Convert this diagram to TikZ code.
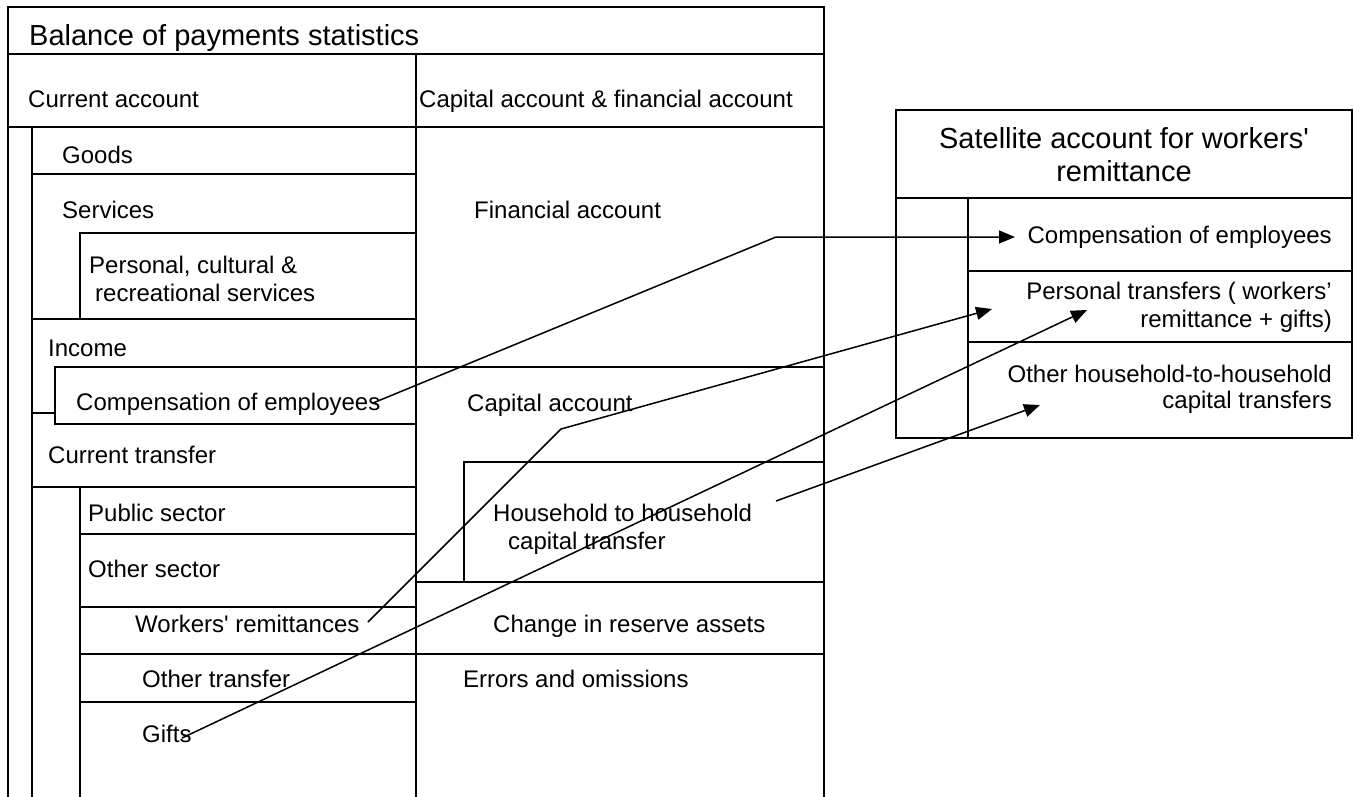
\documentclass[tikz,border=0pt]{standalone}
\usepackage{fontspec}
\setmainfont{Liberation Sans}[Ligatures=TeXOff]
\usetikzlibrary{arrows.meta}
\begin{document}
\begin{tikzpicture}[x=1pt,y=-1pt,
  rule/.style={line width=1.8pt, line cap=rect},
  lbl/.style={anchor=base west, inner sep=0pt, font=\fontsize{24}{28}\selectfont},
  rlbl/.style={anchor=base east, inner sep=0pt, font=\fontsize{24}{28}\selectfont},
  head/.style={inner sep=0pt, font=\fontsize{29}{33}\selectfont},
  link/.style={line width=1.5pt, -{Triangle[length=16pt,width=13pt]}}]
\useasboundingbox (0,0) rectangle (1354,796);

% ---- balance of payments table: frame and columns
\draw[rule] (8,796) -- (8,7) -- (824,7) -- (824,796);
\draw[rule] (8,54) -- (824,54);
\draw[rule] (8,127) -- (824,127);
\draw[rule] (416,54) -- (416,796);
\draw[rule] (32,127) -- (32,796);

% current account rows
\draw[rule] (32,174) -- (416,174);
\draw[rule] (80,319) -- (80,233) -- (416,233);
\draw[rule] (32,319) -- (416,319);
\draw[rule] (32,413) -- (55,413);
\draw[rule] (55,424) -- (55,367) -- (824,367);
\draw[rule] (55,424) -- (416,424);
\draw[rule] (32,487) -- (416,487);
\draw[rule] (80,487) -- (80,796);
\draw[rule] (80,534) -- (416,534);
\draw[rule] (80,607) -- (416,607);
\draw[rule] (80,654) -- (824,654);
\draw[rule] (80,702) -- (416,702);

% capital & financial account rows
\draw[rule] (464,582) -- (464,462) -- (824,462);
\draw[rule] (416,582) -- (824,582);

% ---- satellite account table
\draw[rule] (896,110) rectangle (1352,438);
\draw[rule] (896,198) -- (1352,198);
\draw[rule] (968,198) -- (968,438);
\draw[rule] (968,271) -- (1352,271);
\draw[rule] (968,342) -- (1352,342);

% ---- labels, left table
\node[head, anchor=base west] (bop) at (29,45) {Balance of payments statistics};
\node[lbl] (cur) at (28,107) {Current account};
\node[lbl] (capfin) at (419,107) {Capital account \& financial account};
\node[lbl] (goods) at (62,163) {Goods};
\node[lbl] (serv) at (62,218) {Services};
\node[lbl] (fin) at (474,218) {Financial account};
\node[lbl] (pers1) at (89,273) {Personal, cultural \&};
\node[lbl] (pers2) at (95,301) {recreational services};
\node[lbl] (inc) at (48,356) {Income};
\node[lbl] (comp) at (76,410) {Compensation of employees};
\node[lbl] (cap) at (467,411) {Capital account};
\node[lbl] (ctr) at (48,463) {Current transfer};
\node[lbl] (pub) at (88,521) {Public sector};
\node[lbl] (hh1) at (493,521) {Household to household};
\node[lbl] (hh2) at (508,549) {capital transfer};
\node[lbl] (oth) at (88,577) {Other sector};
\node[lbl] (wrk) at (135,632) {Workers' remittances};
\node[lbl] (res) at (493,632) {Change in reserve assets};
\node[lbl] (otr) at (142,687) {Other transfer};
\node[lbl] (err) at (463,687) {Errors and omissions};
\node[lbl] (gift) at (142,742) {Gifts};

% ---- labels, satellite table
\node[head, anchor=base] (sat1) at (1124,148) {Satellite account for workers'};
\node[head, anchor=base] (sat2) at (1124,181) {remittance};
\node[rlbl] (scomp) at (1332,243) {Compensation of employees};
\node[rlbl] (spt1) at (1332,299) {Personal transfers ( workers’};
\node[rlbl] (spt2) at (1332,327) {remittance + gifts)};
\node[rlbl] (soh1) at (1332,382) {Other household-to-household};
\node[rlbl] (soh2) at (1332,408) {capital transfers};

% ---- connector end points and bends
\coordinate (compEnd) at (373,403);
\coordinate (compBend) at (776,237);
\coordinate (compTip) at (1015,237);
\coordinate (wrkEnd) at (368,622);
\coordinate (wrkBend) at (561,429);
\coordinate (wrkTip) at (992,309);
\coordinate (giftEnd) at (182,738);
\coordinate (giftTip) at (1087,310);
\coordinate (hhEnd) at (776,501);
\coordinate (hhTip) at (1040,405);

% ---- connectors
\draw[link] (compEnd) -- (compBend) -- (compTip);
\draw[link] (wrkEnd) -- (wrkBend) -- (wrkTip);
\draw[link] (giftEnd) -- (giftTip);
\draw[link] (hhEnd) -- (hhTip);
\end{tikzpicture}
\end{document}
